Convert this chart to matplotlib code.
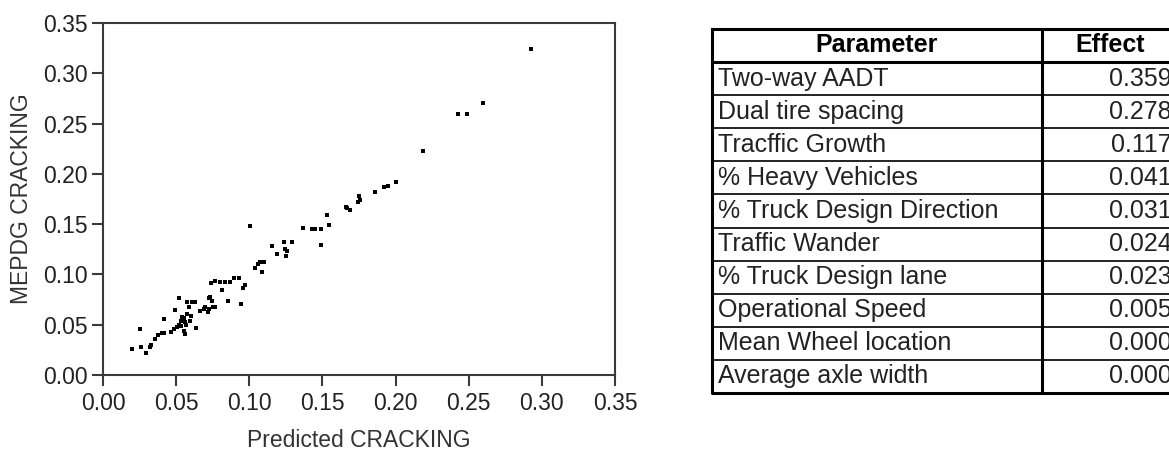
import numpy as np
import matplotlib as mpl
from matplotlib import pyplot as plt

plt.rcParams["font.family"] = ["Liberation Sans", "DejaVu Sans"]

# values (predicted vs MEPDG cracking)
pred_x = [0.0198, 0.0250, 0.0262, 0.0294, 0.0320, 0.0330, 0.0353, 0.0376,
          0.0400, 0.0420, 0.0415, 0.0467, 0.0483, 0.0490, 0.0517, 0.0505,
          0.0520, 0.0535, 0.0545, 0.0558, 0.0540, 0.0563, 0.0555, 0.0574,
          0.0585, 0.0574, 0.0610, 0.0626, 0.0596, 0.0603, 0.0636, 0.0665,
          0.0688, 0.0700, 0.0718, 0.0727, 0.0722, 0.0733, 0.0745, 0.0750,
          0.0767, 0.0740, 0.0768, 0.0800, 0.0836, 0.0870, 0.0893, 0.0927,
          0.0813, 0.0854, 0.0945, 0.0960, 0.0968, 0.1007, 0.1036, 0.1060,
          0.1075, 0.1100, 0.1090, 0.1155, 0.1190, 0.1235, 0.1290, 0.1246,
          0.1257, 0.1250, 0.1370, 0.1428, 0.1450, 0.1490, 0.1490, 0.1530,
          0.1545, 0.1670, 0.1690, 0.1660, 0.1750, 0.1755, 0.1740, 0.1856,
          0.1920, 0.1950, 0.2000, 0.2187, 0.2425, 0.2488, 0.2600, 0.2927,
          0.0555, 0.0570, 0.0535]
mepdg_y = [0.0258, 0.0459, 0.0281, 0.0214, 0.0275, 0.0300, 0.0358, 0.0400,
           0.0415, 0.0415, 0.0560, 0.0425, 0.0459, 0.0650, 0.0770, 0.0475,
           0.0500, 0.0535, 0.0560, 0.0525, 0.0580, 0.0410, 0.0440, 0.0610,
           0.0680, 0.0730, 0.0730, 0.0730, 0.0540, 0.0590, 0.0470, 0.0640,
           0.0660, 0.0677, 0.0626, 0.0660, 0.0770, 0.0780, 0.0740, 0.0677,
           0.0680, 0.0918, 0.0938, 0.0928, 0.0928, 0.0928, 0.0961, 0.0961,
           0.0844, 0.0733, 0.0710, 0.0870, 0.0894, 0.1480, 0.1060, 0.1100,
           0.1125, 0.1125, 0.1028, 0.1280, 0.1200, 0.1320, 0.1320, 0.1250,
           0.1230, 0.1180, 0.1457, 0.1447, 0.1447, 0.1447, 0.1290, 0.1590,
           0.1490, 0.1660, 0.1636, 0.1675, 0.1775, 0.1740, 0.1725, 0.1820,
           0.1865, 0.1875, 0.1920, 0.2230, 0.2600, 0.2600, 0.2700, 0.3240,
           0.0565, 0.0500, 0.0485]

param_names = ["Two-way AADT", "Dual tire spacing", "Tracffic Growth",
               "% Heavy Vehicles", "% Truck Design Direction", "Traffic Wander",
               "% Truck Design lane", "Operational Speed", "Mean Wheel location",
               "Average axle width"]
param_effect = ["0.359", "0.278", "0.117", "0.041", "0.031", "0.024",
                "0.023", "0.005", "0.000", "0.000"]

W, H = 1169, 450
fig = plt.figure(figsize=(W / 100, H / 100), dpi=100)

# scatter
ax = fig.add_axes([103 / W, 75 / H, 512 / W, 352 / H])
ax.scatter(pred_x, mepdg_y, s=9, c="k", marker="s", linewidths=0)
ticks = np.arange(0, 0.351, 0.05)
ax.set_xlim(0, 0.35)
ax.set_ylim(0, 0.35)
ax.set_xticks(ticks)
ax.set_yticks(ticks)
ax.xaxis.set_major_formatter(mpl.ticker.FormatStrFormatter("%.2f"))
ax.yaxis.set_major_formatter(mpl.ticker.FormatStrFormatter("%.2f"))
for s in ax.spines.values():
    s.set_color("#3a3a3a")
    s.set_linewidth(1.5)
ax.tick_params(direction="out", length=8, width=1.5, color="#3a3a3a",
               labelsize=16.5, labelcolor="#222222")
ax.tick_params(axis="x", pad=4)
ax.tick_params(axis="y", pad=3)
ax.set_xlabel("Predicted CRACKING", fontsize=16.5, color="#333333")
ax.set_ylabel("MEPDG CRACKING", fontsize=16.5, color="#333333")
ax.xaxis.set_label_coords(0.5, -0.152)
ax.yaxis.set_label_coords(-0.136, 0.5)

# table drawn in pixel coordinates
ax_t = fig.add_axes([0, 0, 1, 1])
ax_t.set_xlim(0, W)
ax_t.set_ylim(H, 0)
ax_t.axis("off")

t_left, t_mid, t_right = 712, 1042, 1178
t_top, head_bot = 29, 62
row_h = 33.1
t_bot = head_bot + row_h * len(param_names)

for i in range(1, len(param_names)):
    yl = head_bot + i * row_h
    ax_t.plot([t_left, t_right], [yl, yl], color="#222222", lw=1.4)
ax_t.plot([t_left, t_right], [head_bot, head_bot], color="k", lw=2.2)
ax_t.plot([t_mid, t_mid], [t_top, t_bot], color="k", lw=2.2)
ax_t.plot([t_left, t_right, t_right, t_left, t_left],
          [t_top, t_top, t_bot, t_bot, t_top], color="k", lw=2.2)

ax_t.text((t_left + t_mid) / 2, (t_top + head_bot) / 2, "Parameter",
          ha="center", va="center", fontsize=18, fontweight="bold")
ax_t.text((t_mid + t_right) / 2, (t_top + head_bot) / 2, "Effect",
          ha="center", va="center", fontsize=18, fontweight="bold")
for i, (name, eff) in enumerate(zip(param_names, param_effect)):
    yc = head_bot + (i + 0.5) * row_h
    ax_t.text(t_left + 6, yc, name, ha="left", va="center", fontsize=18,
              color="#222222")
    ax_t.text(t_right - 6, yc, eff, ha="right", va="center", fontsize=18,
              color="#222222")

fig.savefig("out.png", dpi=100)
